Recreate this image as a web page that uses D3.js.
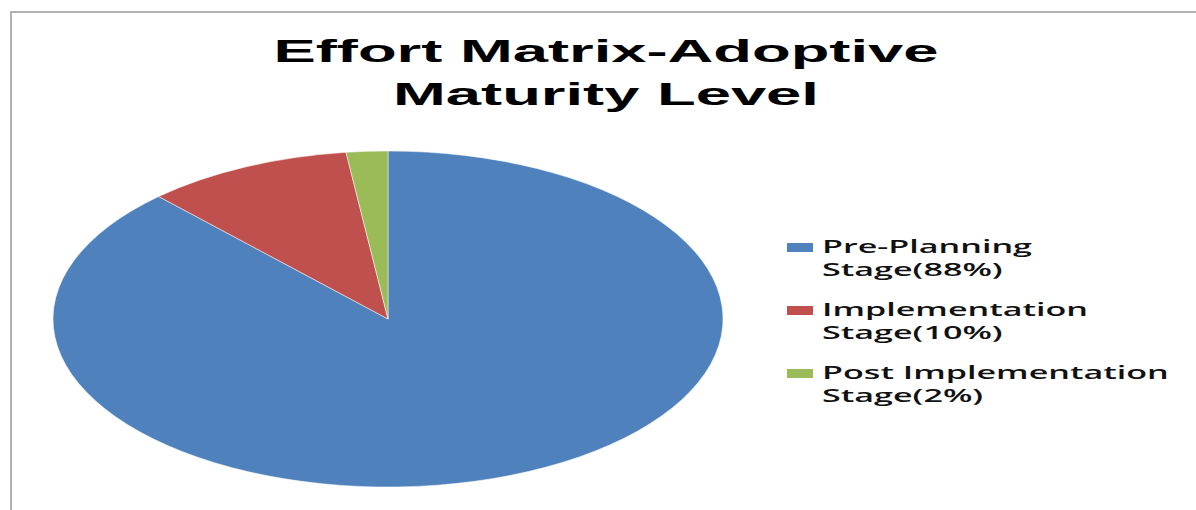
<!DOCTYPE html>
<html>
<head>
<meta charset="utf-8">
<script src="https://cdn.jsdelivr.net/npm/d3@7/dist/d3.min.js"></script>
<style>
  html, body { margin: 0; padding: 0; background: #ffffff; }
  svg { display: block; }
</style>
</head>
<body>
<svg id="chart" width="1196" height="510"></svg>
<script>
// Effort split across adoptive maturity stages
const titleLines = ["Effort Matrix-Adoptive", "Maturity Level"];
const categories = ["Pre-Planning", "Implementation", "Post Implementation"];
const values = [88, 10, 2];
const colors = ["#4F81BD", "#C0504D", "#9BBB59"];

const W = 1196, H = 510;
const svg = d3.select("#chart");

// chart frame (top and left edges visible)
svg.append("path")
  .attr("d", `M11,${H} L11,12 L${W},12`)
  .attr("fill", "none")
  .attr("stroke", "#b2b2b2")
  .attr("stroke-width", 2);

// ---- title ----
const titleG = svg.append("g");
const titleText = titleG.selectAll("text")
  .data(titleLines)
  .join("text")
  .attr("x", 0)
  .attr("y", (d, i) => 62 + i * 43)
  .attr("text-anchor", "middle")
  .attr("font-family", "'Liberation Sans', Arial, sans-serif")
  .attr("font-weight", "bold")
  .attr("font-size", 31)
  .attr("fill", "#000")
  .text(d => d);
const titleW = titleText.nodes()[0].getComputedTextLength();
titleG.attr("transform", `translate(606,0) scale(${665 / titleW},1)`);

// ---- pie (stretched ellipse) ----
const cx = 388, cy = 319, rx = 335, ry = 168;
const pie = d3.pie().sort(null).value(d => d.value);
const arcs = pie(categories.map((c, i) => ({ name: c, value: values[i], color: colors[i] })));
const arc = d3.arc().innerRadius(0).outerRadius(ry);
svg.append("g")
  .attr("transform", `translate(${cx},${cy}) scale(${rx / ry},1)`)
  .selectAll("path")
  .data(arcs)
  .join("path")
  .attr("d", arc)
  .attr("fill", d => d.data.color)
  .attr("stroke", "#ffffff")
  .attr("stroke-opacity", 0.5)
  .attr("stroke-width", 1)
  .attr("vector-effect", "non-scaling-stroke");

// ---- legend ----
const legendX = 822;
const firstBaseline = 253, entryGap = 63, lineGap = 23;
const legend = svg.append("g");
const entries = legend.selectAll("g")
  .data(categories.map((c, i) => ({ name: c, value: values[i], color: colors[i] })))
  .join("g")
  .attr("transform", (d, i) => `translate(0,${firstBaseline + i * entryGap})`);

entries.append("rect")
  .attr("x", 787)
  .attr("y", -10)
  .attr("width", 26)
  .attr("height", 9)
  .attr("fill", d => d.color);

const textG = entries.append("g").attr("class", "lbl");
const lbl = textG.selectAll("text")
  .data(d => [d.name, `Stage(${d.value}%)`])
  .join("text")
  .attr("x", 0)
  .attr("y", (d, i) => i * lineGap)
  .attr("font-family", "'Open Sans', 'DejaVu Sans', sans-serif")
  .attr("font-weight", 600)
  .attr("font-size", 18)
  .attr("fill", "#111")
  .text(d => d);

// horizontal stretch so the widest label spans the legend column
const widest = d3.max(lbl.nodes(), n => n.getComputedTextLength());
const lsx = 347 / widest;
textG.attr("transform", `translate(${legendX},0) scale(${lsx},1)`);
</script>
</body>
</html>
